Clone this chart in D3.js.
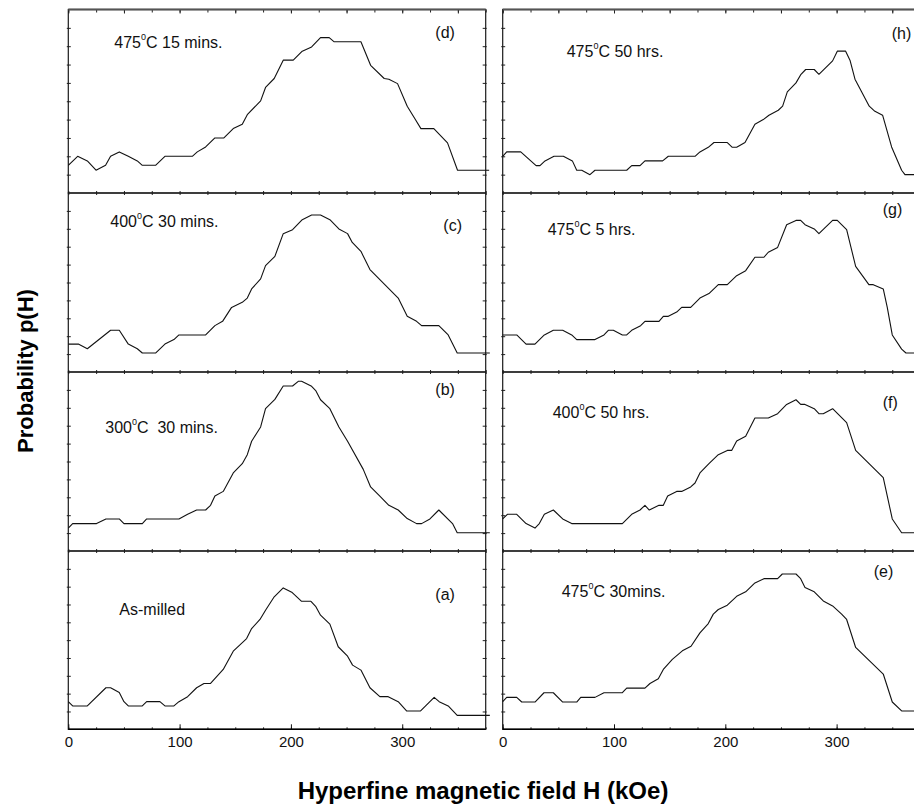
<!DOCTYPE html>
<html><head><meta charset="utf-8">
<script src="https://cdn.jsdelivr.net/npm/d3@7"></script>
<style>
html,body{margin:0;padding:0;background:#fff;}
svg{display:block;font-family:Arial,"Liberation Sans",Helvetica,sans-serif;}
</style></head>
<body>
<svg id="chart" width="914" height="810"></svg>
<script>
// ---------- DATA (H in kOe, p(H) in arbitrary units 0-10) ----------
const xTickLabels = [0, 100, 200, 300];

const hA = [0, 3.9, 17.1, 33.8, 38.0, 45.8, 50.0, 53.9, 66.5, 70.4, 82.3, 86.8, 94.9, 99.4, 107.2, 115.3, 121.9, 127.8, 139.2, 148.2, 160.2, 164.7, 172.2, 177.2, 185.0, 193.1, 201.2, 209.6, 218.0, 222.2, 226.6, 235.0, 242.5, 250.9, 255.4, 262.9, 271.0, 279.9, 287.4, 296.4, 303.9, 316.5, 328.7, 333.2, 341.3, 349.4, 378.7];
const pA = [1.55, 1.31, 1.31, 2.33, 2.33, 2.07, 1.55, 1.31, 1.31, 1.55, 1.55, 1.31, 1.31, 1.55, 1.83, 2.33, 2.57, 2.57, 3.36, 4.38, 5.09, 5.65, 6.16, 6.68, 7.43, 7.93, 7.67, 7.18, 7.18, 6.90, 6.40, 5.90, 4.63, 4.10, 3.60, 3.32, 2.33, 1.83, 1.83, 1.55, 1.03, 1.03, 1.79, 1.55, 1.31, 0.78, 0.78];

const hB = [0, 3.9, 25.4, 33.8, 45.8, 50.0, 66.5, 70.4, 99.4, 107.2, 115.3, 123.4, 127.8, 131.7, 139.2, 148.2, 156.3, 160.8, 164.7, 172.8, 177.2, 185.6, 193.1, 201.5, 206.6, 209.6, 218.6, 222.5, 226.6, 235.0, 243.1, 250.9, 265.0, 271.6, 279.9, 288.0, 296.4, 304.5, 312.9, 317.4, 324.9, 332.9, 345.2, 349.4, 378.7];
const pB = [1.28, 1.53, 1.53, 1.79, 1.79, 1.53, 1.53, 1.79, 1.79, 2.05, 2.29, 2.29, 2.55, 3.07, 3.33, 4.36, 4.88, 5.38, 6.13, 6.93, 7.95, 8.47, 9.22, 9.22, 9.48, 9.48, 9.20, 8.94, 8.45, 7.95, 6.93, 6.13, 4.56, 3.58, 3.07, 2.55, 2.29, 1.81, 1.53, 1.53, 1.79, 2.29, 1.53, 1.02, 1.02];

const hC = [0, 9.0, 17.1, 38.0, 45.8, 53.9, 62.0, 66.5, 78.4, 86.8, 94.9, 99.4, 123.4, 131.7, 138.6, 146.7, 156.3, 160.8, 164.7, 172.8, 177.2, 185.6, 193.1, 201.5, 210.2, 218.6, 226.6, 235.0, 243.1, 250.9, 255.1, 262.9, 271.0, 296.4, 304.5, 312.9, 317.4, 332.9, 341.3, 349.4, 378.7];
const pC = [1.56, 1.56, 1.30, 2.33, 2.33, 1.56, 1.30, 1.06, 1.06, 1.56, 1.81, 2.07, 2.07, 2.59, 2.83, 3.61, 3.89, 4.13, 4.64, 5.20, 5.94, 6.46, 7.73, 7.95, 8.51, 8.77, 8.77, 8.51, 7.99, 7.73, 7.24, 6.74, 5.72, 4.13, 3.11, 2.83, 2.59, 2.59, 2.07, 1.06, 1.06];

const hD = [0, 8.4, 17.1, 24.9, 33.5, 38.0, 45.8, 53.9, 62.0, 66.5, 78.4, 86.8, 111.4, 115.9, 123.4, 131.7, 139.8, 148.2, 156.3, 160.8, 172.8, 177.2, 185.0, 193.1, 202.1, 210.2, 218.6, 226.6, 234.4, 238.9, 262.9, 271.6, 283.8, 288.0, 295.8, 304.5, 311.4, 316.8, 328.4, 340.7, 349.7, 378.1];
const pD = [1.51, 2.00, 1.75, 1.24, 1.51, 2.00, 2.24, 2.00, 1.75, 1.51, 1.51, 2.00, 2.00, 2.24, 2.51, 3.00, 3.00, 3.51, 3.75, 4.27, 5.02, 5.75, 6.24, 7.24, 7.24, 7.73, 7.96, 8.47, 8.47, 8.24, 8.24, 6.96, 6.24, 6.20, 5.96, 4.73, 4.05, 3.51, 3.51, 2.73, 1.24, 1.24];

const hE = [0, 3.6, 12.6, 17.1, 29.0, 37.1, 45.5, 53.9, 66.5, 70.1, 82.9, 91.0, 107.5, 111.4, 127.8, 132.3, 139.8, 144.3, 152.4, 161.4, 169.2, 177.2, 184.7, 189.2, 193.7, 201.8, 210.2, 218.3, 226.6, 234.7, 247.0, 251.2, 263.5, 267.7, 271.6, 279.9, 288.0, 296.4, 304.5, 309.0, 317.1, 341.9, 350.0, 358.4, 378.7];
const pE = [1.55, 1.79, 1.79, 1.53, 1.53, 2.05, 2.05, 1.53, 1.53, 1.79, 1.79, 2.05, 2.05, 2.31, 2.31, 2.57, 2.84, 3.36, 3.92, 4.40, 4.66, 5.41, 5.93, 6.46, 6.72, 6.96, 7.46, 7.71, 8.21, 8.45, 8.45, 8.71, 8.71, 8.45, 7.95, 7.71, 7.20, 6.92, 6.46, 6.16, 4.59, 3.10, 1.53, 1.03, 1.03];

const hF = [0, 4.2, 12.6, 21.0, 29.0, 32.9, 37.4, 45.5, 53.9, 62.0, 107.5, 115.9, 123.4, 127.8, 131.7, 140.4, 144.3, 148.2, 156.3, 160.8, 168.9, 172.8, 177.2, 185.3, 193.7, 201.8, 205.7, 210.2, 218.3, 226.6, 238.6, 247.0, 255.1, 263.5, 267.7, 271.6, 279.9, 284.1, 288.0, 296.4, 309.0, 317.1, 341.9, 350.0, 358.4, 378.7];
const pF = [1.79, 2.05, 2.05, 1.53, 1.28, 1.53, 2.05, 2.29, 1.79, 1.53, 1.53, 2.05, 2.29, 2.55, 2.29, 2.55, 2.55, 3.07, 3.33, 3.33, 3.58, 3.80, 4.36, 4.88, 5.38, 5.62, 5.62, 6.15, 6.41, 7.43, 7.43, 7.67, 8.19, 8.45, 8.19, 8.19, 7.95, 7.67, 7.67, 7.95, 7.17, 5.62, 4.10, 1.79, 1.02, 1.02];

const hG = [0, 12.6, 21.0, 29.0, 37.4, 45.5, 53.9, 62.0, 66.5, 82.9, 91.0, 94.9, 99.4, 107.5, 111.4, 115.9, 123.9, 127.8, 140.4, 144.3, 148.8, 156.3, 160.8, 168.9, 177.2, 185.3, 193.7, 201.8, 210.2, 218.3, 226.6, 234.7, 238.6, 247.0, 255.1, 263.5, 267.7, 271.6, 279.9, 284.1, 296.4, 300.6, 309.0, 317.1, 329.0, 332.9, 341.9, 345.5, 350.0, 358.4, 362.3, 378.7];
const pG = [2.07, 2.07, 1.56, 1.56, 2.07, 2.33, 2.33, 2.07, 1.81, 1.81, 2.07, 2.33, 2.33, 2.07, 2.07, 2.33, 2.59, 2.83, 2.83, 3.11, 3.11, 3.35, 3.61, 3.61, 4.13, 4.38, 4.88, 4.88, 5.38, 5.66, 6.41, 6.41, 6.69, 6.96, 8.23, 8.47, 8.47, 8.23, 7.99, 7.73, 8.47, 8.47, 7.95, 5.90, 4.88, 4.88, 4.64, 3.61, 2.07, 1.28, 1.06, 1.06];

const hH = [0, 3.6, 16.2, 30.0, 33.5, 38.0, 46.1, 54.5, 62.6, 66.5, 71.0, 78.4, 82.9, 111.4, 115.9, 123.4, 127.8, 143.7, 148.8, 172.8, 177.2, 184.7, 189.8, 201.8, 206.3, 210.2, 217.7, 226.6, 234.1, 239.2, 247.6, 251.5, 255.7, 263.5, 268.0, 272.2, 279.9, 284.1, 296.4, 300.6, 308.1, 312.0, 316.5, 329.3, 334.4, 341.3, 349.4, 358.4, 361.4, 378.7];
const pH = [2.00, 2.24, 2.24, 1.49, 1.49, 1.75, 2.00, 2.00, 1.75, 1.24, 1.24, 1.00, 1.24, 1.24, 1.49, 1.49, 1.75, 1.75, 2.00, 2.00, 2.24, 2.49, 2.75, 2.75, 2.49, 2.49, 2.75, 3.75, 4.00, 4.24, 4.51, 4.73, 5.51, 6.00, 6.47, 6.73, 6.73, 6.47, 7.20, 7.73, 7.73, 7.24, 6.20, 4.73, 4.45, 4.24, 2.51, 1.24, 1.00, 1.00];

// panel letters and treatment labels (temperature, superscript, rest)
const panelIds   = ["d", "c", "b", "a", "h", "g", "f", "e"];
const labelTemp  = ["475", "400", "300", "", "475", "475", "400", "475"];
const labelRest  = ["C 15 mins.", "C 30 mins.", "C\u00a0\u00a030 mins.", "As-milled", "C 50 hrs.", "C 5 hrs.", "C 50 hrs.", "C 30mins."];
const seriesH = [hD, hC, hB, hA, hH, hG, hF, hE];
const seriesP = [pD, pC, pB, pA, pH, pG, pF, pE];

// ---------- LAYOUT ----------
const colX = [68.3, 502.7];
const colW = 417.4;
const rowEdges = [9.5, 193, 372, 551, 729.3];
const xDomain = [0, 375];
const yDomain = [0, 10];
const labelPos = [
  {lx: 46, ly: 38, ix: 367, iy: 28},
  {lx: 42, ly: 33.5, ix: 375, iy: 37.5},
  {lx: 37, ly: 61, ix: 367, iy: 23},
  {lx: 51, ly: 64, ix: 367, iy: 49},
  {lx: 64, ly: 47.5, ix: 389, iy: 29.5},
  {lx: 45, ly: 42, ix: 380, iy: 22},
  {lx: 50, ly: 46, ix: 380, iy: 36},
  {lx: 59, ly: 46, ix: 371, iy: 26}
];

const svg = d3.select("#chart");
const font = 'Arial, "Liberation Sans", Helvetica, sans-serif';

panelIds.forEach((id, i) => {
  const col = Math.floor(i / 4), row = i % 4;
  const x0 = colX[col], top = rowEdges[row], bottom = rowEdges[row + 1];
  const x = d3.scaleLinear().domain(xDomain).range([x0, x0 + colW]);
  const y = d3.scaleLinear().domain(yDomain).range([bottom, top]);
  const g = svg.append("g");

  const minor = d3.range(0, 376, 25);
  g.append("g").attr("transform", `translate(0,${top})`)
    .call(d3.axisTop(x).tickValues(minor).tickSize(row === 0 ? -3 : -2).tickFormat(""))
    .call(s => s.select(".domain").remove());
  if (row === 0) {
    g.append("g").attr("transform", `translate(0,${top})`)
      .call(d3.axisTop(x).tickValues(d3.range(0, 376, 50)).tickSize(-4).tickFormat(""))
      .call(s => s.select(".domain").remove());
  }
  g.append("g").attr("transform", `translate(0,${bottom})`)
    .call(d3.axisBottom(x).tickValues(minor).tickSize(-2).tickFormat(""))
    .call(s => s.select(".domain").remove());
  const yt = d3.range(1, 10);
  g.append("g").attr("transform", `translate(${x0 - 1.5},0)`)
    .call(d3.axisRight(y).tickValues(yt).tickSize(4).tickFormat(""))
    .call(s => s.select(".domain").remove());
  g.append("g").attr("transform", `translate(${x0 + colW + 1},0)`)
    .call(d3.axisLeft(y).tickValues(yt).tickSize(4).tickFormat(""))
    .call(s => s.select(".domain").remove());
  g.selectAll(".tick line").attr("stroke", "#222").attr("stroke-width", 1);

  g.append("rect").attr("x", x0).attr("y", top).attr("width", colW).attr("height", bottom - top)
    .attr("fill", "none").attr("stroke", "#1a1a1a").attr("stroke-width", 1.2);
  if (row === 0) {
    g.append("line").attr("x1", x0).attr("x2", x0 + colW).attr("y1", top).attr("y2", top)
      .attr("stroke", "#555").attr("stroke-width", 1.8);
  }

  if (row === 3) {
    const ax = g.append("g").attr("transform", `translate(0,${bottom})`)
      .call(d3.axisBottom(x).tickValues(xTickLabels).tickSize(-5).tickPadding(7).tickFormat(d3.format("d")));
    ax.select(".domain").remove();
    ax.selectAll(".tick line").attr("stroke", "#111").attr("stroke-width", 1);
    ax.selectAll("text").attr("font-size", 15).attr("font-family", font).attr("fill", "#111");
    g.append("line").attr("x1", x0).attr("x2", x0 + colW).attr("y1", bottom).attr("y2", bottom)
      .attr("stroke", "#000").attr("stroke-width", 1.6);
  }

  const pts = seriesH[i].map((h, k) => [h, seriesP[i][k]]);
  g.append("path").datum(pts)
    .attr("d", d3.line().x(d => x(d[0])).y(d => y(d[1])))
    .attr("fill", "none").attr("stroke", "#111").attr("stroke-width", 1.1)
    .attr("stroke-linejoin", "round");

  const lp = labelPos[i];
  const t = g.append("text").attr("x", x0 + lp.lx).attr("y", top + lp.ly)
    .attr("font-size", 16).attr("font-family", font).attr("fill", "#111");
  if (labelTemp[i]) {
    t.append("tspan").text(labelTemp[i]);
    t.append("tspan").attr("font-size", 9).attr("dy", -8).text("0");
    t.append("tspan").attr("dy", 8).text(labelRest[i]);
  } else {
    t.text(labelRest[i]);
  }
  g.append("text").attr("x", x0 + lp.ix).attr("y", top + lp.iy)
    .attr("font-size", 16).attr("font-family", font).attr("fill", "#111")
    .text("(" + id + ")");
});

svg.append("text").attr("x", 483).attr("y", 799).attr("text-anchor", "middle")
  .attr("font-size", 24).attr("font-weight", "bold").attr("font-family", font).attr("fill", "#000")
  .text("Hyperfine magnetic field H (kOe)");
svg.append("text").attr("transform", "translate(33,371) rotate(-90)").attr("text-anchor", "middle")
  .attr("font-size", 22).attr("font-weight", "bold").attr("font-family", font).attr("fill", "#000")
  .text("Probability p(H)");
</script>
</body></html>
